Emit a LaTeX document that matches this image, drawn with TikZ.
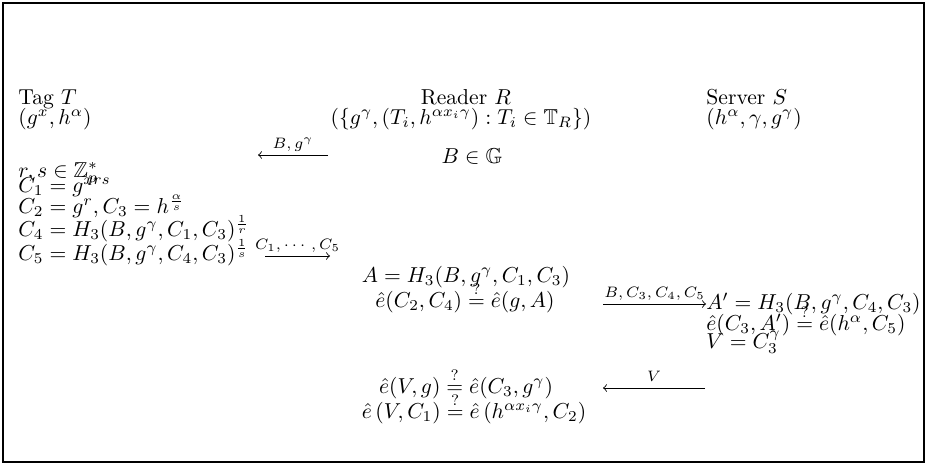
\documentclass[tikz,border=0pt]{standalone}
\usepackage{amsmath,amssymb}
\begin{document}
\begin{tikzpicture}[x=0.463pt,y=-0.463pt,
  txt/.style={inner sep=0pt,anchor=base west},
  ctr/.style={inner sep=0pt,anchor=base},
  msg/.style={-to,line width=0.4pt},
  lbl/.style={inner sep=0pt,anchor=base,font=\scriptsize}]
\useasboundingbox (0,0) rectangle (931,464);
\draw[line width=0.9pt] (3,3) rectangle (924,462);
% headers
\node[txt] (tagT) at (18,104) {Tag $T$};
\node[txt] (tagK) at (18,124) {$(g^x,h^\alpha)$};
\node[ctr] (rdR) at (466,104) {Reader $R$};
\node[ctr] (rdK) at (461,124) {$(\{g^\gamma,(T_i,h^{\alpha x_i\gamma}):T_i\in\mathbb{T}_R\})$};
\node[txt] (svS) at (706,104) {Server $S$};
\node[txt] (svK) at (706,124) {$(h^\alpha,\gamma,g^\gamma)$};
% tag
\node[txt] (t1) at (18,177) {$r,s\in\mathbb{Z}_p^*$};
\node[txt] (t2) at (18,192) {$C_1=g^{xrs}$};
\node[txt] (t3) at (18,213) {$C_2=g^r,C_3=h^{\frac{\alpha}{s}}$};
\node[txt] (t4) at (18,236) {$C_4=H_3(B,g^\gamma,C_1,C_3)^{\frac{1}{r}}$};
\node[txt] (t5) at (18,260) {$C_5=H_3(B,g^\gamma,C_4,C_3)^{\frac{1}{s}}$};
% reader
\node[ctr] (r0) at (472,163) {$B\in\mathbb{G}$};
\node[ctr] (r1) at (466,282) {$A=H_3(B,g^\gamma,C_1,C_3)$};
\node[ctr] (r2) at (465,307) {$\hat e(C_2,C_4)\overset{?}{=}\hat e(g,A)$};
\node[ctr] (r3) at (466,393) {$\hat e(V,g)\overset{?}{=}\hat e(C_3,g^\gamma)$};
\node[ctr] (r4) at (474,418) {$\hat e\left(V,C_1\right)\overset{?}{=}\hat e\left(h^{\alpha x_i\gamma},C_2\right)$};
% server
\node[txt] (s1) at (706,309) {$A'=H_3(B,g^\gamma,C_4,C_3)$};
\node[txt] (s2) at (706,330) {$\hat e(C_3,A')\overset{?}{=}\hat e(h^\alpha,C_5)$};
\node[txt] (s3) at (706,348) {$V=C_3^\gamma$};
% messages
\coordinate (m1a) at (328,155); \coordinate (m1b) at (258,155);
\draw[msg] (m1a) -- (m1b) node[lbl,midway,yshift=3pt] {$B,g^\gamma$};
\coordinate (m2a) at (265,256); \coordinate (m2b) at (330,256);
\draw[msg] (m2a) -- (m2b) node[lbl,midway,yshift=3pt] {$C_1,\cdots,C_5$};
\coordinate (m3a) at (603,304); \coordinate (m3b) at (706,304);
\draw[msg] (m3a) -- (m3b) node[lbl,midway,yshift=3pt] {$B,C_3,C_4,C_5$};
\coordinate (m4a) at (705,388); \coordinate (m4b) at (603,388);
\draw[msg] (m4a) -- (m4b) node[lbl,midway,yshift=3pt] {$V$};
\end{tikzpicture}
\end{document}
